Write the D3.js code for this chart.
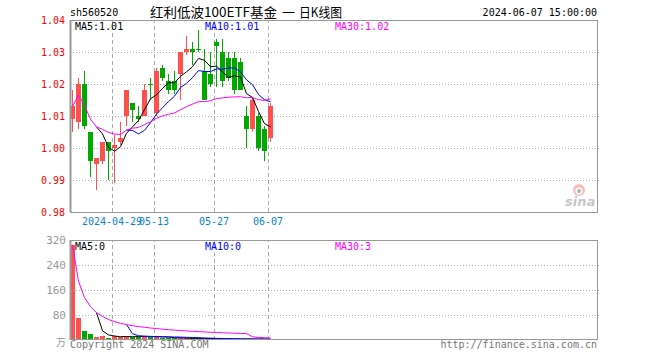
<!DOCTYPE html>
<html>
<head>
<meta charset="utf-8">
<script src="https://cdn.jsdelivr.net/npm/d3@7"></script>
<style>
  html, body { margin: 0; padding: 0; background: #fff; }
  svg { display: block; }
  text { font-family: "DejaVu Sans Mono", monospace; font-size: 10px; }
</style>
</head>
<body>
<svg id="chart" width="660" height="360"></svg>
<script>
// 红利低波100ETF (sh560520) daily K-line, 2024-04-18 .. 2024-06-07
const dates = [
  "2024-04-18","2024-04-19","2024-04-22","2024-04-23","2024-04-24","2024-04-25","2024-04-26",
  "2024-04-29","2024-04-30","2024-05-06","2024-05-07","2024-05-08","2024-05-09","2024-05-10",
  "2024-05-13","2024-05-14","2024-05-15","2024-05-16","2024-05-17","2024-05-20","2024-05-21",
  "2024-05-22","2024-05-23","2024-05-24","2024-05-27","2024-05-28","2024-05-29","2024-05-30",
  "2024-05-31","2024-06-03","2024-06-04","2024-06-05","2024-06-06","2024-06-07"
];
const openP  = [1.009,1.008,1.020,1.005,0.995,0.996,1.002,1.000,1.002,1.010,1.014,1.010,1.010,1.020,
                1.011,1.025,1.021,1.021,1.023,1.030,1.031,1.031,1.024,1.023,1.033,1.030,1.028,1.028,
                1.027,1.010,1.006,1.010,1.006,1.003];
const highP  = [1.018,1.022,1.024,1.005,0.997,1.002,1.002,1.004,1.008,1.018,1.014,1.013,1.020,1.022,
                1.025,1.026,1.023,1.024,1.030,1.035,1.033,1.037,1.031,1.030,1.034,1.034,1.030,1.030,
                1.028,1.013,1.016,1.011,1.007,1.014];
const lowP   = [1.005,1.006,1.006,0.991,0.987,0.995,0.990,0.989,1.001,1.007,1.008,1.008,1.010,1.015,
                1.010,1.021,1.017,1.017,1.015,1.029,1.026,1.030,1.015,1.019,1.019,1.019,1.021,1.017,
                1.018,1.000,1.005,0.999,0.996,1.002];
const closeP = [1.013,1.020,1.007,0.996,0.997,1.002,0.999,1.001,1.003,1.018,1.012,1.009,1.018,1.020,
                1.024,1.022,1.018,1.018,1.030,1.031,1.030,1.031,1.015,1.020,1.032,1.021,1.022,1.018,
                1.018,1.006,1.015,1.000,0.999,1.013];
// volume in 万
const volume = [305,72,30,20,11,14,7,12,9,14,10,11,14,9,10,7,6,6,6,6,5,5,4,4,3,3,3,3,3,3,3,3,3,2];

const priceTicks = [1.04,1.03,1.02,1.01,1.00,0.99,0.98];
const volTicks = [320,240,160,80];
const dateTicks = ["2024-04-29","2024-05-13","2024-05-27","2024-06-07"];
const dateTickLabels = ["2024-04-29","05-13","05-27","06-07"];
const priceMaLabels = ["MA5:1.01","MA10:1.01","MA30:1.02"];
const volMaLabels = ["MA5:0","MA10:0","MA30:3"];
const maPeriods = [5,10,30];

const COL_UP = "#ff5050", COL_DOWN = "#00a800";
const MA_COLORS = ["#000000","#0000ff","#ff00ff"];
const GRID = "#aaaaaa", FRAME = "#999999";

const svg = d3.select("#chart");
const L = 70, R = 597;
const P = {top: 20, bottom: 212};
const V = {top: 240, bottom: 340};

const x = d3.scaleBand().domain(dates).range([L, L + 6 * dates.length - 1])
  .paddingInner(1/6).paddingOuter(0).align(0);
const bw = x.bandwidth();
const y = d3.scaleLinear().domain([0.98, 1.04]).range([P.bottom, P.top]);
const yv = d3.scaleLinear().domain([0, 320]).range([V.bottom, V.top]);

// moving average; the 30-day line averages whatever history exists before day 30
function movingAvg(vals, n, partial) {
  return vals.map((v, i) => {
    if (i < n - 1) return partial ? d3.mean(vals.slice(0, i + 1)) : null;
    return d3.mean(vals.slice(i - n + 1, i + 1));
  });
}
const isUp = i => closeP[i] > openP[i];

// ---------- header ----------
svg.append("text").attr("x", L).attr("y", 16).attr("fill", "#000").text("sh560520");
const title = svg.append("text").attr("y", 17)
  .style("font-family", "'Noto Sans CJK SC', sans-serif").style("font-size", "13px")
  .attr("fill", "#000");
title.append("tspan").attr("x", 150).attr("textLength", 127)
  .attr("lengthAdjust", "spacingAndGlyphs").text("红利低波100ETF基金");
title.append("tspan").attr("x", 282).text("一");
title.append("tspan").attr("x", 299).attr("textLength", 43)
  .attr("lengthAdjust", "spacingAndGlyphs").text("日K线图");
svg.append("text").attr("x", R).attr("y", 16).attr("text-anchor", "end")
  .attr("fill", "#000").text("2024-06-07 15:00:00");

// ---------- price panel ----------
const yAxis = d3.axisLeft(y).tickValues(priceTicks).tickFormat(d3.format(".2f"))
  .tickSize(-(R - L + 3)).tickPadding(5);
const gy = svg.append("g").attr("transform", `translate(${L},0)`).call(yAxis);
gy.select(".domain").remove();
gy.selectAll(".tick line")
  .attr("stroke", GRID).attr("stroke-dasharray", "1,2").attr("shape-rendering", "crispEdges")
  .attr("display", d => (d === 1.04 || d === 0.98) ? "none" : null);
gy.selectAll(".tick text").attr("fill", "#ff0000")
  .style("font-family", "'DejaVu Sans Mono', monospace").style("font-size", "10px");

// vertical date lines + date labels
const xAxis = d3.axisBottom(x).tickValues(dateTicks)
  .tickFormat((d, i) => dateTickLabels[i]).tickSize(-(P.bottom - P.top)).tickPadding(6)
  .offset(0);
const gx = svg.append("g").attr("transform", `translate(${-bw / 2},${P.bottom})`).call(xAxis);
gx.select(".domain").remove();
gx.selectAll(".tick line").attr("stroke", GRID).attr("stroke-dasharray", "4,3")
  .attr("shape-rendering", "crispEdges");
gx.selectAll(".tick text").attr("fill", "#0a82d0")
  .style("font-family", "'DejaVu Sans Mono', monospace").style("font-size", "10px");

// candles
const cx = i => Math.floor(x(dates[i])) + 2.5;
const candles = svg.append("g").attr("shape-rendering", "crispEdges");
candles.selectAll("line").data(dates).join("line")
  .attr("x1", (d, i) => cx(i)).attr("x2", (d, i) => cx(i))
  .attr("y1", (d, i) => y(highP[i])).attr("y2", (d, i) => y(lowP[i]))
  .attr("stroke", (d, i) => isUp(i) ? COL_UP : COL_DOWN);
candles.selectAll("rect").data(dates).join("rect")
  .attr("x", d => Math.floor(x(d))).attr("width", bw)
  .attr("y", (d, i) => y(Math.max(openP[i], closeP[i])))
  .attr("height", (d, i) => Math.max(1, Math.abs(y(openP[i]) - y(closeP[i]))))
  .attr("fill", (d, i) => isUp(i) ? COL_UP : COL_DOWN);

// price moving averages
maPeriods.forEach((n, k) => {
  const m = movingAvg(closeP, n, n === 30);
  const line = d3.line().defined(v => v != null)
    .x((v, i) => cx(i)).y(v => y(v));
  svg.append("path").datum(m).attr("d", line)
    .attr("fill", "none").attr("stroke", MA_COLORS[k]).attr("stroke-width", 1);
});

svg.append("rect").attr("x", L + 0.5).attr("y", P.top + 0.5)
  .attr("width", R - L).attr("height", P.bottom - P.top)
  .attr("fill", "none").attr("stroke", FRAME).attr("shape-rendering", "crispEdges");
svg.append("line").attr("x1", L + 0.5).attr("x2", L + 0.5).attr("y1", P.top).attr("y2", P.bottom)
  .attr("stroke", FRAME).attr("stroke-width", 2);

const maX = [75, 205, 335];
priceMaLabels.forEach((t, k) => {
  svg.append("text").attr("x", maX[k]).attr("y", 30).attr("fill", MA_COLORS[k]).text(t);
});

// sina logo
const logo = svg.append("g").attr("opacity", 0.55);
logo.append("circle").attr("cx", 579).attr("cy", 190).attr("r", 6).attr("fill", "#f28a8a");
logo.append("circle").attr("cx", 579).attr("cy", 191).attr("r", 3.5).attr("fill", "#fff");
logo.append("circle").attr("cx", 579).attr("cy", 191).attr("r", 2).attr("fill", "#777");
logo.append("text").attr("x", 565).attr("y", 206)
  .style("font-family", "'DejaVu Sans', sans-serif").style("font-size", "13px")
  .style("font-style", "italic").style("font-weight", "bold")
  .attr("fill", "#999").text("sina");

// ---------- volume panel ----------
const vAxis = d3.axisLeft(yv).tickValues(volTicks).tickFormat(d3.format("d"))
  .tickSize(-(R - L + 3)).tickPadding(4);
const gv = svg.append("g").attr("transform", `translate(${L},0)`).call(vAxis);
gv.select(".domain").remove();
gv.selectAll(".tick line")
  .attr("stroke", GRID).attr("stroke-dasharray", "1,2").attr("shape-rendering", "crispEdges")
  .attr("display", d => d === 320 ? "none" : null);
gv.selectAll(".tick text").attr("fill", "#999")
  .style("font-family", "'DejaVu Sans Mono', monospace").style("font-size", "11px");
svg.append("text").attr("x", 66).attr("y", 346).attr("text-anchor", "end")
  .style("font-family", "'Noto Sans CJK SC', sans-serif").style("font-size", "10px")
  .attr("fill", "#999").text("万");

const xAxisV = d3.axisBottom(x).tickValues(dateTicks).tickFormat("")
  .tickSize(-(V.bottom - V.top)).offset(0);
const gxv = svg.append("g").attr("transform", `translate(${-bw / 2},${V.bottom})`).call(xAxisV);
gxv.select(".domain").remove();
gxv.selectAll(".tick line").attr("stroke", GRID).attr("stroke-dasharray", "4,3")
  .attr("shape-rendering", "crispEdges");

svg.append("g").attr("shape-rendering", "crispEdges")
  .selectAll("rect").data(dates).join("rect")
  .attr("x", d => Math.floor(x(d))).attr("width", bw)
  .attr("y", (d, i) => yv(volume[i]))
  .attr("height", (d, i) => V.bottom - yv(volume[i]))
  .attr("fill", (d, i) => isUp(i) ? COL_UP : COL_DOWN);

maPeriods.forEach((n, k) => {
  const m = movingAvg(volume, n, n === 30);
  const line = d3.line().defined(v => v != null)
    .x((v, i) => cx(i)).y(v => yv(v));
  svg.append("path").datum(m).attr("d", line)
    .attr("fill", "none").attr("stroke", MA_COLORS[k]).attr("stroke-width", 1);
});

svg.append("rect").attr("x", L + 0.5).attr("y", V.top + 0.5)
  .attr("width", R - L).attr("height", V.bottom - V.top - 1)
  .attr("fill", "none").attr("stroke", FRAME).attr("shape-rendering", "crispEdges");
svg.append("line").attr("x1", L + 0.5).attr("x2", L + 0.5).attr("y1", V.top).attr("y2", V.bottom)
  .attr("stroke", FRAME).attr("stroke-width", 2);

volMaLabels.forEach((t, k) => {
  svg.append("text").attr("x", maX[k]).attr("y", 250).attr("fill", MA_COLORS[k]).text(t);
});

// ---------- footer ----------
svg.append("text").attr("x", L).attr("y", 348).attr("fill", "#777").text("Copyright 2024 SINA.COM");
svg.append("text").attr("x", R).attr("y", 348).attr("text-anchor", "end")
  .attr("fill", "#777").text("http://finance.sina.com.cn");
</script>
</body>
</html>
